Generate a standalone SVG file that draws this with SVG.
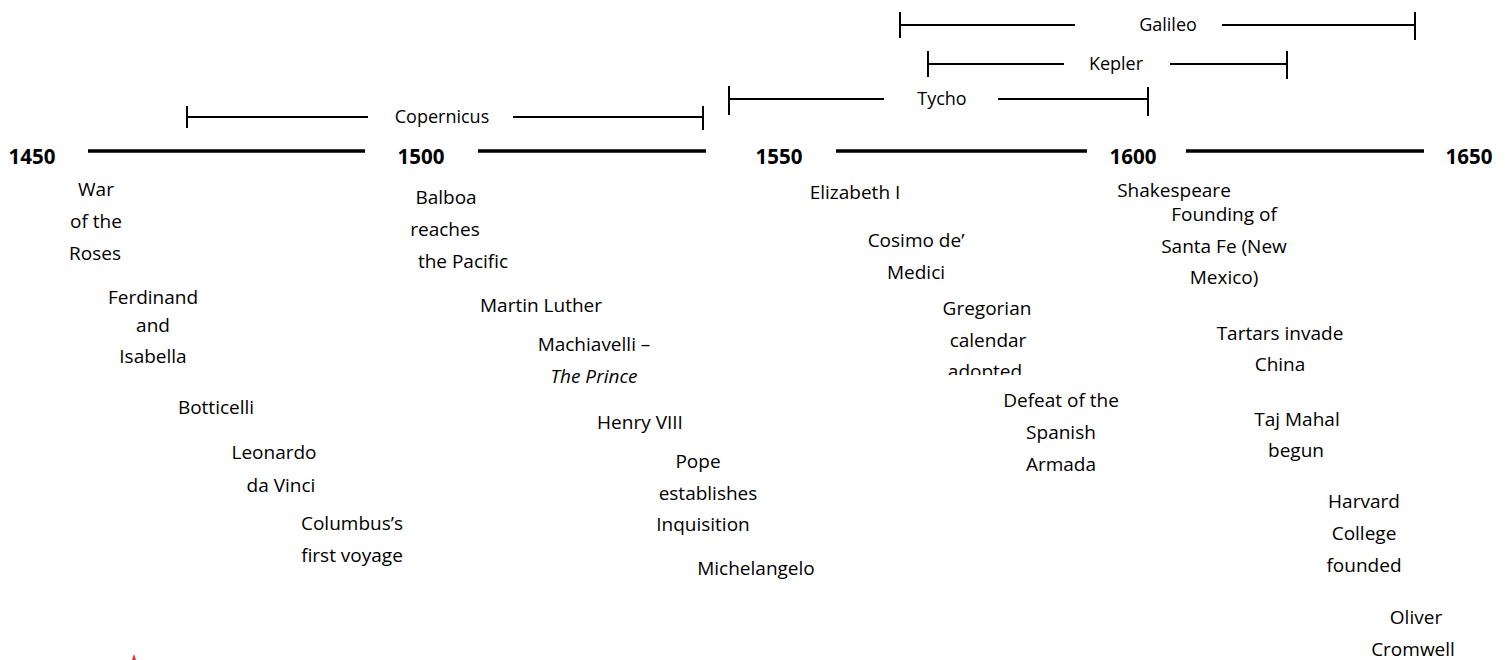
<svg xmlns="http://www.w3.org/2000/svg" width="1512" height="660" viewBox="0 0 1512 660">
<style>
.t{font-family:"Open Sans","Liberation Sans",sans-serif;font-size:19px;fill:#000;text-anchor:middle}
.b{font-family:"Open Sans","Liberation Sans",sans-serif;font-size:18px;fill:#000;text-anchor:middle}
.y{font-family:"Open Sans","Liberation Sans",sans-serif;font-size:20.5px;font-weight:bold;fill:#000;text-anchor:middle}
.axis{stroke:#000;stroke-width:3.5;fill:none}
.bar{stroke:#000;stroke-width:2;fill:none}
</style>
<defs>
<clipPath id="clipAdopted"><rect x="900" y="340" width="200" height="35"/></clipPath>
</defs>
<rect width="1512" height="660" fill="#fff"/>
<g id="connectors">
<line class="axis" x1="88" y1="151" x2="365" y2="151"/>
<line class="axis" x1="478" y1="151" x2="706" y2="151"/>
<line class="axis" x1="836" y1="151" x2="1087" y2="151"/>
<line class="axis" x1="1186" y1="151" x2="1424" y2="151"/>
</g>
<g id="years">
<text class="y" x="32" y="164">1450</text>
<text class="y" x="421" y="164">1500</text>
<text class="y" x="779" y="164">1550</text>
<text class="y" x="1133" y="164">1600</text>
<text class="y" x="1469" y="164">1650</text>
</g>
<g id="copernicus">
<path class="bar" d="M187 106V128M187 117H368M513 117H703M703 106V130"/>
<text class="b" x="442" y="123">Copernicus</text>
</g>
<g id="tycho">
<path class="bar" d="M729 86V115M729 99H884M998 99H1148M1148 87V116"/>
<text class="b" x="942" y="105">Tycho</text>
</g>
<g id="kepler">
<path class="bar" d="M928 51V77M928 64H1064M1170 64H1287M1287 51V79"/>
<text class="b" x="1116" y="70">Kepler</text>
</g>
<g id="galileo">
<path class="bar" d="M900 12V38M900 25H1075M1222 25H1415M1415 12V40"/>
<text class="b" x="1168" y="31">Galileo</text>
</g>
<g id="war-of-the-roses">
<text class="t" x="96" y="196">War</text>
<text class="t" x="96" y="228">of the</text>
<text class="t" x="95" y="260">Roses</text>
</g>
<g id="ferdinand">
<text class="t" x="153" y="304">Ferdinand</text>
<text class="t" x="153" y="332">and</text>
<text class="t" x="153" y="363">Isabella</text>
</g>
<g id="botticelli"><text class="t" x="216" y="414">Botticelli</text></g>
<g id="leonardo">
<text class="t" x="274" y="459">Leonardo</text>
<text class="t" x="281" y="492">da Vinci</text>
</g>
<g id="columbus">
<text class="t" x="352" y="530">Columbus’s</text>
<text class="t" x="352" y="562">first voyage</text>
</g>
<g id="balboa">
<text class="t" x="446" y="204">Balboa</text>
<text class="t" x="445" y="236">reaches</text>
<text class="t" x="463" y="268">the Pacific</text>
</g>
<g id="luther"><text class="t" x="541" y="312">Martin Luther</text></g>
<g id="machiavelli">
<text class="t" x="594" y="351">Machiavelli –</text>
<text class="t" x="594" y="383" font-style="italic">The Prince</text>
</g>
<g id="henry"><text class="t" x="640" y="429">Henry VIII</text></g>
<g id="inquisition">
<text class="t" x="698" y="468">Pope</text>
<text class="t" x="708" y="500">establishes</text>
<text class="t" x="703" y="531">Inquisition</text>
</g>
<g id="michelangelo"><text class="t" x="756" y="575">Michelangelo</text></g>
<g id="elizabeth"><text class="t" x="855" y="199">Elizabeth I</text></g>
<g id="cosimo">
<text class="t" x="916" y="247">Cosimo de’</text>
<text class="t" x="916" y="279">Medici</text>
</g>
<g id="gregorian">
<text class="t" x="987" y="315">Gregorian</text>
<text class="t" x="988" y="347">calendar</text>
<text class="t" x="985" y="378" clip-path="url(#clipAdopted)">adopted</text>
</g>
<g id="armada">
<text class="t" x="1061" y="407">Defeat of the</text>
<text class="t" x="1061" y="439">Spanish</text>
<text class="t" x="1061" y="471">Armada</text>
</g>
<g id="shakespeare"><text class="t" x="1174" y="197">Shakespeare</text></g>
<g id="santa-fe">
<text class="t" x="1224" y="221">Founding of</text>
<text class="t" x="1224" y="253">Santa Fe (New</text>
<text class="t" x="1224" y="284">Mexico)</text>
</g>
<g id="tartars">
<text class="t" x="1280" y="340">Tartars invade</text>
<text class="t" x="1280" y="371">China</text>
</g>
<g id="taj-mahal">
<text class="t" x="1297" y="426">Taj Mahal</text>
<text class="t" x="1296" y="457">begun</text>
</g>
<g id="harvard">
<text class="t" x="1364" y="508">Harvard</text>
<text class="t" x="1364" y="540">College</text>
<text class="t" x="1364" y="572">founded</text>
</g>
<g id="cromwell">
<text class="t" x="1416" y="624">Oliver</text>
<text class="t" x="1413" y="656">Cromwell</text>
</g>
<polygon points="132,660 134,654 136,660" fill="#e03030"/>
</svg>
